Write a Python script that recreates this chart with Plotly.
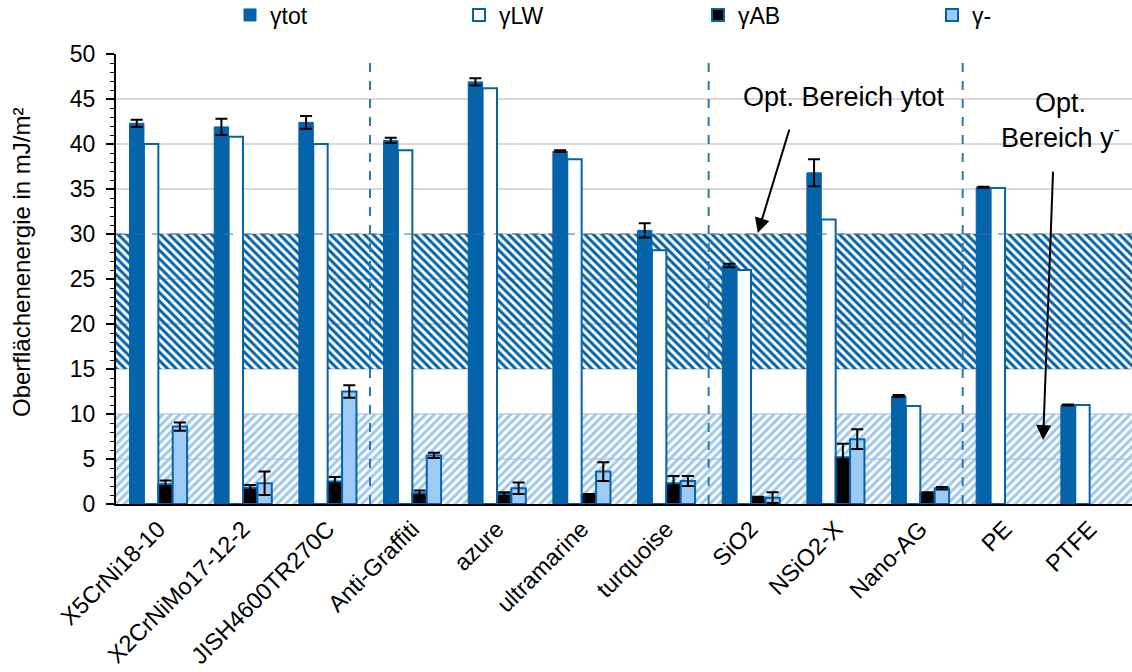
import plotly.graph_objects as go

categories = ["X5CrNi18-10", "X2CrNiMo17-12-2", "JISH4600TR270C", "Anti-Graffiti", "azure",
              "ultramarine", "turquoise", "SiO2", "NSiO2-X", "Nano-AG", "PE", "PTFE"]
ytot = [42.3, 41.9, 42.4, 40.4, 46.9, 39.2, 30.4, 26.5, 36.8, 12.0, 35.2, 11.0]
ytot_err = [0.4, 0.9, 0.7, 0.3, 0.4, 0.1, 0.8, 0.2, 1.5, 0.1, 0.05, 0.05]
ylw = [40.0, 40.8, 40.0, 39.3, 46.2, 38.3, 28.2, 26.0, 31.6, 10.9, 35.1, 11.0]
yab = [2.2, 1.8, 2.5, 1.2, 1.1, 1.0, 2.3, 0.7, 5.2, 1.2, None, None]
yab_err = [0.4, 0.3, 0.5, 0.3, 0.2, 0.1, 0.8, 0.1, 1.5, 0.1, 0.0, 0.0]
yminus = [8.6, 2.3, 12.5, 5.4, 1.75, 3.6, 2.55, 0.7, 7.2, 1.75, None, None]
yminus_err = [0.45, 1.3, 0.7, 0.3, 0.65, 1.05, 0.55, 0.6, 1.1, 0.15, 0.0, 0.0]
opt_tot_range = [15, 30]
opt_minus_range = [0, 10]
separators_after = [2, 6, 9]

DARK = "#0563AA"
LIGHT = "#9DCBF5"
xs = list(range(len(categories)))
n = len(categories)

fig = go.Figure()

# optimum bands (patterned)
fig.add_trace(go.Bar(x=[(n - 1) / 2], y=[opt_minus_range[1] - opt_minus_range[0]], base=[opt_minus_range[0]],
                     width=[n], marker=dict(color="rgba(0,0,0,0)", line=dict(width=0),
                                             pattern=dict(shape="/", fgcolor="#9DC8F0", bgcolor="rgba(255,255,255,0)",
                                                          fgopacity=1, size=6, solidity=0.5, fillmode="overlay")),
                     showlegend=False, hoverinfo="skip"))
fig.add_trace(go.Bar(x=[(n - 1) / 2], y=[opt_tot_range[1] - opt_tot_range[0]], base=[opt_tot_range[0]],
                     width=[n], marker=dict(color="rgba(0,0,0,0)", line=dict(width=0),
                                             pattern=dict(shape="\\", fgcolor=DARK, bgcolor="rgba(255,255,255,0)",
                                                          fgopacity=1, size=6, solidity=0.5, fillmode="overlay")),
                     showlegend=False, hoverinfo="skip"))

w = 0.17
start = -0.34
err_style = dict(type="data", color="black", thickness=2, width=6)

fig.add_trace(go.Bar(x=xs, y=ytot, name="γtot", offset=start, width=w, legend="legend",
                     marker=dict(color=DARK, line=dict(color=DARK, width=1)),
                     error_y=dict(array=ytot_err, **err_style)))
fig.add_trace(go.Bar(x=xs, y=ylw, name="γLW", offset=start + w, width=w, legend="legend2",
                     marker=dict(color="white", line=dict(color=DARK, width=2))))
fig.add_trace(go.Bar(x=xs, y=yab, name="γAB", offset=start + 2 * w, width=w, legend="legend3",
                     marker=dict(color="black", line=dict(color=DARK, width=2)),
                     error_y=dict(array=yab_err, **err_style)))
fig.add_trace(go.Bar(x=xs, y=yminus, name="γ-", offset=start + 3 * w, width=w, legend="legend4",
                     marker=dict(color=LIGHT, line=dict(color=DARK, width=2)),
                     error_y=dict(array=yminus_err, **err_style)))

shapes = []
for s in separators_after:
    shapes.append(dict(type="line", xref="x", yref="y", x0=s + 0.5, x1=s + 0.5, y0=0, y1=50,
                       line=dict(color="#2E75B6", width=2, dash="dash")))
shapes.append(dict(type="line", xref="x", yref="y", x0=-0.5, x1=n - 0.5, y0=opt_tot_range[1], y1=opt_tot_range[1],
                   line=dict(color="#2E75B6", width=1, dash="dash")))

annotations = [
    dict(x=8.10, y=45.2, xref="x", yref="y", text="Opt. Bereich ytot", showarrow=False,
         font=dict(size=27, color="black")),
    dict(x=10.65, y=42.6, xref="x", yref="y", text="Opt.<br>Bereich y<sup>-</sup>", showarrow=False,
         font=dict(size=27, color="black")),
    dict(x=7.08, y=30.1, xref="x", yref="y", text="", showarrow=True, ax=32, ay=-105,
         arrowhead=2, arrowsize=1.5, arrowwidth=2, arrowcolor="black"),
    dict(x=10.45, y=7.1, xref="x", yref="y", text="", showarrow=True, ax=10, ay=-270,
         arrowhead=2, arrowsize=1.5, arrowwidth=2, arrowcolor="black"),
    dict(x=-0.0925, y=0.5356, xref="paper", yref="paper", text="Oberflächenenergie in mJ/m²",
         xanchor="center", yanchor="middle",
         showarrow=False, textangle=-90, font=dict(size=24, color="black")),
]

leg_common = dict(orientation="h", xref="container", yref="container", xanchor="left", yanchor="middle",
                  y=1 - 15 / 672, font=dict(size=23), bgcolor="rgba(0,0,0,0)", borderwidth=0)
leg_x = [252, 481, 720, 954]

fig.update_layout(
    width=1132, height=672,
    margin=dict(l=116, r=0, t=54, b=168, autoexpand=False),
    paper_bgcolor="white", plot_bgcolor="white",
    barmode="overlay",
    font=dict(family="Liberation Sans, Arial, sans-serif", size=23, color="black"),
    shapes=shapes, annotations=annotations,
    legend=dict(x=(leg_x[0] - 22) / 1132, **leg_common),
    legend2=dict(x=(leg_x[1] - 22) / 1132, **leg_common),
    legend3=dict(x=(leg_x[2] - 22) / 1132, **leg_common),
    legend4=dict(x=(leg_x[3] - 22) / 1132, **leg_common),
    xaxis=dict(tickmode="array", tickvals=xs, ticktext=categories, range=[-0.5, n - 0.5],
               tickangle=-45, showline=True, linecolor="black", linewidth=2, ticks="",
               showgrid=False, zeroline=False, tickfont=dict(size=23.5), automargin=False),
    yaxis=dict(range=[0, 50], dtick=5, showline=True, linecolor="black", linewidth=2,
               ticks="outside", ticklen=8, tickwidth=2, tickcolor="black", ticklabelstandoff=6,
               gridcolor="#D9D9D9", gridwidth=2, zeroline=False, tickfont=dict(size=23), automargin=False,
               minor=dict(dtick=1, ticks="outside", ticklen=4, tickcolor="black", tickwidth=1, showgrid=False)),
)

fig.write_html("out.html", config={"displayModeBar": False},
               post_script="document.body.style.margin='0px';")
